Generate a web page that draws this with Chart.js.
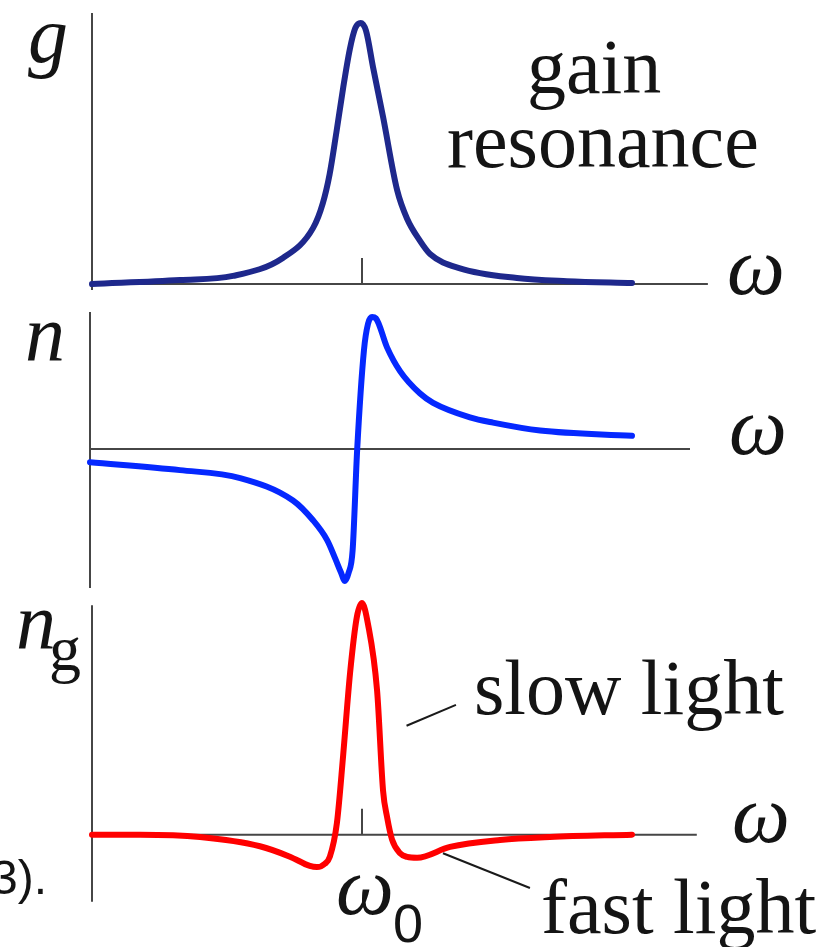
<!DOCTYPE html>
<html>
<head>
<meta charset="utf-8">
<script src="https://cdn.jsdelivr.net/npm/chart.js@4.4.1/dist/chart.umd.min.js"></script>
<style>
  html, body { margin: 0; padding: 0; background: #fff; }
  body { width: 824px; height: 947px; position: relative; overflow: hidden; }
  canvas { position: absolute; left: 0; }
  .lbl { position: absolute; font-family: 'Liberation Serif', 'Times New Roman', serif; color: #141414; line-height: 1; white-space: nowrap; }
  .it { font-style: italic; }
  .sans { font-family: 'Liberation Sans', Arial, sans-serif; }
</style>
</head>
<body>
<canvas id="gainChart" width="824" height="300" style="top:0"></canvas>
<canvas id="indexChart" width="824" height="300" style="top:300px"></canvas>
<canvas id="groupChart" width="824" height="357" style="top:590px"></canvas>

<div class="lbl it" style="left:28px; top:-5px; font-size:80px">g</div>
<div class="lbl" style="left:527px; top:28px; font-size:78px">gain</div>
<div class="lbl" style="left:447px; top:102px; font-size:78px">resonance</div>
<div class="lbl it" style="left:727px; top:226px; font-size:82px">ω</div>

<div class="lbl it" style="left:25px; top:293px; font-size:80px">n</div>
<div class="lbl it" style="left:729px; top:386px; font-size:82px">ω</div>

<div class="lbl it" style="left:16px; top:581px; font-size:80px">n</div>
<div class="lbl" style="left:49px; top:617px; font-size:64px">g</div>
<div class="lbl" style="left:474px; top:649px; font-size:78px">slow light</div>
<div class="lbl it" style="left:732px; top:774px; font-size:82px">ω</div>
<div class="lbl" style="left:541px; top:868px; font-size:78px">fast light</div>
<div class="lbl it" style="left:336px; top:846px; font-size:82px">ω</div>
<div class="lbl sans" style="left:393px; top:896px; font-size:54px">0</div>
<div class="lbl sans" style="left:-9px; top:854px; font-size:48px">3).</div>

<script>
// detuning from the resonance, arbitrary units (omega0 = 0)
const gainDetuning = [-10, -6.74, -4.78, -2.93, -1.81, -1.45, -1.20, -0.95, -0.70, -0.45, -0.25, -0.05, 0.15, 0.41, 0.78, 1.30, 1.67, 2.15, 2.52, 3.63, 5.74, 7.59, 10];
const gainValues = [0, 0.015, 0.031, 0.10, 0.215, 0.31, 0.42, 0.58, 0.75, 0.90, 0.98, 1.0, 0.97, 0.83, 0.64, 0.36, 0.25, 0.165, 0.115, 0.06, 0.023, 0.011, 0.004];

const indexDetuning = [-10, -6.68, -4.46, -2.51, -1.77, -1.25, -0.95, -0.75, -0.59, -0.46, -0.31, -0.14, 0.11, 0.26, 0.41, 0.55, 0.96, 1.44, 2.18, 2.66, 4.02, 4.87, 6.61, 10];
const indexValues = [-0.10, -0.16, -0.22, -0.39, -0.54, -0.69, -0.83, -0.93, -1.0, -0.94, -0.77, 0.0, 0.75, 0.95, 1.0, 0.99, 0.77, 0.59, 0.42, 0.35, 0.24, 0.20, 0.14, 0.10];

const groupDetuning = [-10, -8.22, -6.0, -3.78, -2.67, -1.93, -1.67, -1.37, -1.19, -0.93, -0.70, -0.44, -0.19, 0, 0.22, 0.56, 0.78, 0.93, 1.11, 1.41, 1.67, 2.04, 3.26, 5.11, 6.96, 10];
const groupValues = [0, 0, -0.01, -0.05, -0.095, -0.135, -0.14, -0.125, -0.095, 0.05, 0.34, 0.70, 0.94, 1.0, 0.91, 0.62, 0.19, 0.075, -0.02, -0.08, -0.096, -0.10, -0.053, -0.023, -0.01, 0];

const toPoints = (xs, ys) => xs.map((x, i) => ({ x: x, y: ys[i] }));

// draws the bare axes (and the omega0 tick) through the chart's scales
const axisLines = {
    id: 'axisLines',
    beforeDatasetsDraw(chart, args, opts) {
        const { ctx, scales: { x, y } } = chart;
        const x0 = x.getPixelForValue(x.min);
        const y0 = y.getPixelForValue(0);
        ctx.save();
        ctx.strokeStyle = '#464646';
        ctx.lineWidth = 2;
        ctx.beginPath();
        ctx.moveTo(x0, y.getPixelForValue(opts.yTop));
        ctx.lineTo(x0, y.getPixelForValue(opts.yBottom));
        ctx.moveTo(x0, y0);
        ctx.lineTo(x.getPixelForValue(opts.xEnd), y0);
        if (opts.tick) {
            const xc = x.getPixelForValue(0);
            ctx.moveTo(xc, y0);
            ctx.lineTo(xc, y0 - opts.tick);
        }
        ctx.stroke();
        ctx.restore();
    },
    afterDatasetsDraw(chart, args, opts) {
        if (!opts.leaders) return;
        const { ctx, scales: { x, y } } = chart;
        ctx.save();
        ctx.strokeStyle = '#1a1a1a';
        ctx.lineWidth = 2;
        opts.leaders.forEach(l => {
            ctx.beginPath();
            ctx.moveTo(x.getPixelForValue(l[0]), y.getPixelForValue(l[1]));
            ctx.lineTo(x.getPixelForValue(l[2]), y.getPixelForValue(l[3]));
            ctx.stroke();
        });
        ctx.restore();
    }
};

function makePanel(id, points, color, yMin, yMax, padding, axisOpts) {
    const ctx = document.getElementById(id).getContext('2d');
    return new Chart(ctx, {
        type: 'line',
        data: {
            datasets: [{
                data: points,
                borderColor: color,
                borderWidth: 6,
                borderCapStyle: 'round',
                borderJoinStyle: 'round',
                pointRadius: 0,
                cubicInterpolationMode: 'monotone',
                clip: false
            }]
        },
        options: {
            responsive: false,
            animation: false,
            events: [],
            layout: { padding: padding },
            scales: {
                x: { type: 'linear', min: -10, max: 10, display: false },
                y: { type: 'linear', min: yMin, max: yMax, display: false }
            },
            plugins: {
                legend: { display: false },
                tooltip: { enabled: false },
                axisLines: axisOpts
            }
        },
        plugins: [axisLines]
    });
}

makePanel('gainChart', toPoints(gainDetuning, gainValues), 'rgb(30, 40, 140)', 0, 1,
    { left: 92, right: 192, top: 23, bottom: 16 },
    { yTop: 1.038, yBottom: -0.023, xEnd: 12.81, tick: 26 });

makePanel('indexChart', toPoints(indexDetuning, indexValues), 'rgb(5, 40, 255)', -1, 1,
    { left: 90, right: 192, top: 17, bottom: 19 },
    { yTop: 1.038, yBottom: -1.053, xEnd: 12.14 });

makePanel('groupChart', toPoints(groupDetuning, groupValues), 'rgb(255, 0, 0)', -0.2, 1,
    { left: 92, right: 192, top: 13, bottom: 66 },
    { yTop: 0.99, yBottom: -0.29, xEnd: 12.4, tick: 26,
      leaders: [[1.65, 0.47, 3.48, 0.56], [3.0, -0.08, 6.22, -0.23]] });
</script>
</body>
</html>
